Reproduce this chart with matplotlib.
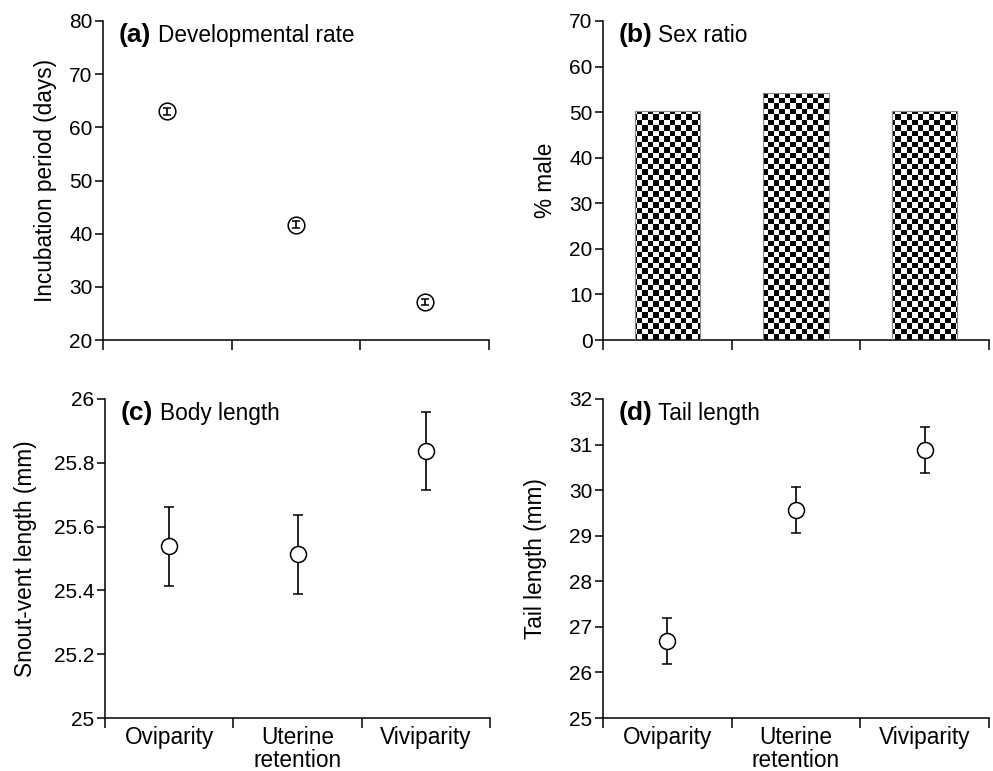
import numpy as np
import matplotlib
matplotlib.use('Agg')
import matplotlib.pyplot as plt

plt.rcParams['font.family'] = ['Liberation Sans', 'DejaVu Sans']

# ---- data ----
categories = ['Oviparity', 'Uterine\nretention', 'Viviparity']
incubation = [63.0, 41.7, 27.1]
incubation_err = [0.6, 0.6, 0.6]
pct_male = [50.2, 54.2, 50.2]
svl = [25.538, 25.513, 25.837]
svl_err = [0.123, 0.123, 0.123]
tail = [26.69, 29.57, 30.88]
tail_err = [0.5, 0.5, 0.5]

W, H = 993, 771
fig = plt.figure(figsize=(W / 100, H / 100), dpi=100)


def make_ax(left, top, width=386, height=319):
    ax = fig.add_axes([left / W, (H - top - height) / H, width / W, height / H])
    for s in ['top', 'right']:
        ax.spines[s].set_visible(False)
    for s in ['left', 'bottom']:
        ax.spines[s].set_linewidth(1.1)
    ax.set_xlim(0, 3)
    ax.set_xticks([0, 1, 2, 3])
    ax.set_xticklabels([])
    ax.tick_params(axis='x', which='major', direction='out', length=7, width=1.1)
    ax.tick_params(axis='y', direction='out', length=6, width=1.1, labelsize=15, pad=1.5)
    return ax


def cat_labels(ax):
    ax.set_xticks([0.5, 1.5, 2.5], minor=True)
    ax.set_xticklabels(categories, minor=True, fontsize=16.3, linespacing=1.0)
    ax.tick_params(axis='x', which='minor', length=0, pad=6)


def panel_title(ax, letter, text):
    ax.text(0.04, 0.955, letter, transform=ax.transAxes, fontsize=19,
            fontweight='bold', va='center', ha='left')
    ax.text(0.143, 0.955, text, transform=ax.transAxes, fontsize=16.3,
            va='center', ha='left')


xpos = np.array([0.5, 1.5, 2.5])
mk = dict(fmt='o', mfc='white', mec='black', ecolor='black', color='black',
          markersize=11.5, mew=1.1, elinewidth=1.2, capsize=3.5, capthick=1.2)

# (a) - error bars show through the open circles
ax_a = make_ax(103, 21)
ax_a.errorbar(xpos, incubation, yerr=incubation_err,
              **dict(mk, mfc='none', capsize=3.2, markersize=12))
ax_a.set_ylim(20, 80)
ax_a.set_yticks(range(20, 81, 10))
ax_a.set_ylabel('Incubation period (days)', fontsize=16.3, labelpad=9)
panel_title(ax_a, '(a)', 'Developmental rate')

# (b) checkerboard bars
ax_b = make_ax(603, 21)
ax_b.set_ylim(0, 70)
ax_b.set_yticks(range(0, 71, 10))
ax_b.set_ylabel('% male', fontsize=16.3, labelpad=9)
bars = ax_b.bar(xpos, pct_male, width=0.51, color='none', edgecolor='#888888',
                linewidth=0.8, zorder=3)
nx, ny = 70, 58
checker = (np.indices((ny, nx)).sum(axis=0) % 2).astype(float)
for b in bars:
    im = ax_b.imshow(checker, cmap='gray', extent=(0, 3, 0, 70),
                     interpolation='nearest', aspect='auto', zorder=2)
    im.set_clip_path(b)
ax_b.set_xlim(0, 3)
ax_b.set_ylim(0, 70)
panel_title(ax_b, '(b)', 'Sex ratio')

# (c)
ax_c = make_ax(105, 399, width=385)
ax_c.errorbar(xpos, svl, yerr=svl_err, **mk)
ax_c.set_ylim(25, 26)
ax_c.set_yticks([25, 25.2, 25.4, 25.6, 25.8, 26])
ax_c.set_yticklabels(['25', '25.2', '25.4', '25.6', '25.8', '26'])
ax_c.set_ylabel('Snout-vent length (mm)', fontsize=16.3, labelpad=12)
cat_labels(ax_c)
panel_title(ax_c, '(c)', 'Body length')

# (d)
ax_d = make_ax(603, 399)
ax_d.errorbar(xpos, tail, yerr=tail_err, **mk)
ax_d.set_ylim(25, 32)
ax_d.set_yticks(range(25, 33))
ax_d.set_ylabel('Tail length (mm)', fontsize=16.3, labelpad=16)
cat_labels(ax_d)
panel_title(ax_d, '(d)', 'Tail length')

fig.savefig('out.png', dpi=100)
